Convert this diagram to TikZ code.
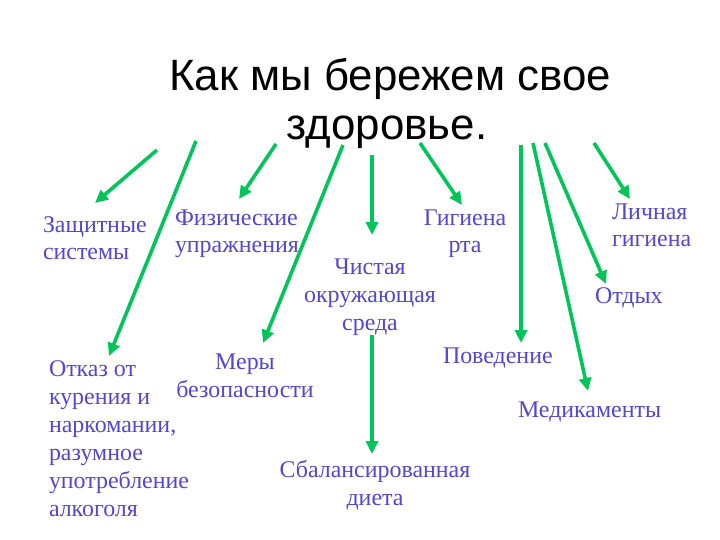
\documentclass[tikz,border=0pt]{standalone}
\usepackage{fontspec}
\setmainfont{Liberation Serif}
\newfontfamily\titlefont{Liberation Sans}
\usetikzlibrary{arrows.meta}
\definecolor{arrgreen}{RGB}{0,196,90}
\definecolor{txtblue}{RGB}{82,72,204}
\tikzset{
  lbl/.style={text=txtblue, font=\fontsize{24}{28}\selectfont, inner sep=0pt, outer sep=0pt},
  garrow/.style={draw=arrgreen, line width=3.6bp, -{Triangle[length=13bp,width=12bp]}},
  ttl/.style={font=\titlefont\fontsize{44}{50}\selectfont, inner sep=0pt, align=center, anchor=base}
}
\begin{document}
\begin{tikzpicture}[x=1bp,y=-1bp]
\useasboundingbox (0,0) rectangle (720,540);
\fill[white] (0,0) rectangle (720,540);
% title
\node[ttl] (title1) at (390,91) {Как мы бережем свое};
\node[ttl] (title2) at (387,140) {здоровье.};
% labels (anchor = baseline of last line)
\node[lbl, anchor=base west, align=left] (zs) at (43,260) {Защитные\\системы};
\node[lbl, anchor=base west, align=left] (fu) at (175,253) {Физические\\упражнения};
\node[lbl, anchor=base, align=center] (cos) at (370,330) {Чистая\\окружающая\\среда};
\node[lbl, anchor=base, align=center] (gr) at (465,253) {Гигиена\\рта};
\node[lbl, anchor=base west, align=left] (lg) at (612,247) {Личная\\гигиена};
\node[lbl, anchor=base west] (ot) at (595,303) {Отдых};
\node[lbl, anchor=base west] (pov) at (443,363) {Поведение};
\node[lbl, anchor=base west] (med) at (518,417) {Медикаменты};
\node[lbl, anchor=base, align=center] (mb) at (245,397) {Меры\\безопасности};
\node[lbl, anchor=base west, align=left] (ok) at (49,516) {Отказ от\\курения и\\наркомании,\\разумное\\употребление\\алкоголя};
\node[lbl, anchor=base, align=center] (sd) at (375,505) {Сбалансированная\\диета};
% arrow ends
\coordinate (s1) at (157,150); \coordinate (e1) at (95,203);
\coordinate (s2) at (196,141); \coordinate (e2) at (109,356);
\coordinate (s3) at (276,144); \coordinate (e3) at (239,199);
\coordinate (s4) at (343,145); \coordinate (e4) at (263,343);
\coordinate (s5) at (372,155); \coordinate (e5) at (372,235);
\coordinate (s6) at (420,143); \coordinate (e6) at (462,205);
\coordinate (s7) at (521,145); \coordinate (e7) at (521,343);
\coordinate (s8) at (533,143); \coordinate (e8) at (588,391);
\coordinate (s9) at (545,143); \coordinate (e9) at (606,284);
\coordinate (s10) at (594,143); \coordinate (e10) at (630,199);
\coordinate (s11) at (372,335); \coordinate (e11) at (372,454);
\foreach \i in {1,...,11} \draw[garrow] (s\i) -- (e\i);
\end{tikzpicture}
\end{document}
